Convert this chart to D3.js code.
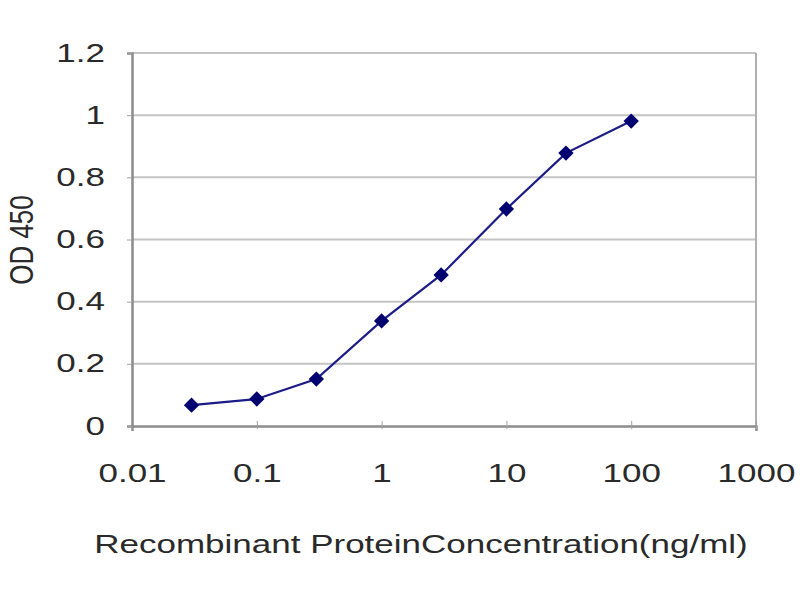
<!DOCTYPE html>
<html>
<head>
<meta charset="utf-8">
<title>OD 450 curve</title>
<style>
  body { margin: 0; background: #fff; }
  text { font-family: "Liberation Sans", Arial, sans-serif; }
</style>
</head>
<body>
<script src="https://cdn.jsdelivr.net/npm/d3@7/dist/d3.min.js"></script>
<script>
// concentration (ng/ml) and OD 450 readings
var concentrations = [0.03, 0.1, 0.3, 1, 3, 10, 30, 100];
var odValues = [0.067, 0.087, 0.151, 0.338, 0.486, 0.698, 0.878, 0.981];
var xTicks = [0.01, 0.1, 1, 10, 100, 1000];
var xTickLabels = ["0.01", "0.1", "1", "10", "100", "1000"];
var yTicks = [0, 0.2, 0.4, 0.6, 0.8, 1, 1.2];
var yTickLabels = ["0", "0.2", "0.4", "0.6", "0.8", "1", "1.2"];

var width = 800, height = 600;
var plot = { left: 132, right: 756, top: 53, bottom: 426 };
var stretch = 1.4;   // the text in the picture is wide, stretched sideways

var svg = d3.select("body").append("svg")
  .attr("width", width)
  .attr("height", height);

var x = d3.scaleLog().domain([0.01, 1000]).range([plot.left, plot.right]);
var y = d3.scaleLinear().domain([0, 1.2]).range([plot.bottom, plot.top]);

// gridlines
svg.append("g").selectAll("line")
  .data(yTicks.slice(1))
  .enter().append("line")
  .attr("x1", plot.left).attr("x2", plot.right)
  .attr("y1", function(d){ return y(d); })
  .attr("y2", function(d){ return y(d); })
  .attr("stroke", "#c4c4c4")
  .attr("stroke-width", 2);

// right border
svg.append("line")
  .attr("x1", plot.right).attr("x2", plot.right)
  .attr("y1", plot.top).attr("y2", plot.bottom)
  .attr("stroke", "#b0b0b0").attr("stroke-width", 2);

// axes
var xAxis = d3.axisBottom(x)
  .tickValues(xTicks)
  .tickFormat(function(d, i){ return xTickLabels[i]; })
  .tickSize(5).tickPadding(33);
var yAxis = d3.axisLeft(y)
  .tickValues(yTicks)
  .tickFormat(function(d, i){ return yTickLabels[i]; })
  .tickSize(5).tickPadding(22);

var gx = svg.append("g")
  .attr("transform", "translate(0," + plot.bottom + ")")
  .call(xAxis);
var gy = svg.append("g")
  .attr("transform", "translate(" + plot.left + ",0)")
  .call(yAxis);

[gx, gy].forEach(function(g){
  g.select(".domain").attr("stroke", "#8c8c8c").attr("stroke-width", 2.5);
  g.selectAll(".tick line").attr("stroke", "#a0a0a0");
  g.selectAll(".tick text")
    .attr("fill", "#2a2a2a")
    .attr("font-size", "25px")
    .attr("transform", "scale(" + stretch + ",1)")
    .style("font-family", "'Liberation Sans', Arial, sans-serif");
});
gx.selectAll(".tick line").attr("y1", -5).attr("y2", 3);
gy.selectAll(".tick text").attr("x", -27 / stretch);

// line
var line = d3.line()
  .x(function(d, i){ return x(concentrations[i]); })
  .y(function(d){ return y(d); });

svg.append("path")
  .datum(odValues)
  .attr("d", line)
  .attr("fill", "none")
  .attr("stroke", "#1c1c88")
  .attr("stroke-width", 2.2);

// diamond markers
svg.append("g").selectAll("path")
  .data(odValues)
  .enter().append("path")
  .attr("d", d3.symbol().type(d3.symbolDiamond2).size(150))
  .attr("transform", function(d, i){
    return "translate(" + x(concentrations[i]) + "," + y(d) + ")";
  })
  .attr("fill", "#000070");

// axis titles
svg.append("text")
  .attr("transform", "translate(421,553) scale(" + stretch + ",1)")
  .attr("text-anchor", "middle")
  .attr("font-size", "25px")
  .attr("fill", "#2a2a2a")
  .text("Recombinant ProteinConcentration(ng/ml)");

svg.append("text")
  .attr("transform", "translate(33,240) scale(1.25,1) rotate(-90)")
  .attr("text-anchor", "middle")
  .attr("font-size", "26px")
  .attr("fill", "#2a2a2a")
  .text("OD 450");
</script>
</body>
</html>
